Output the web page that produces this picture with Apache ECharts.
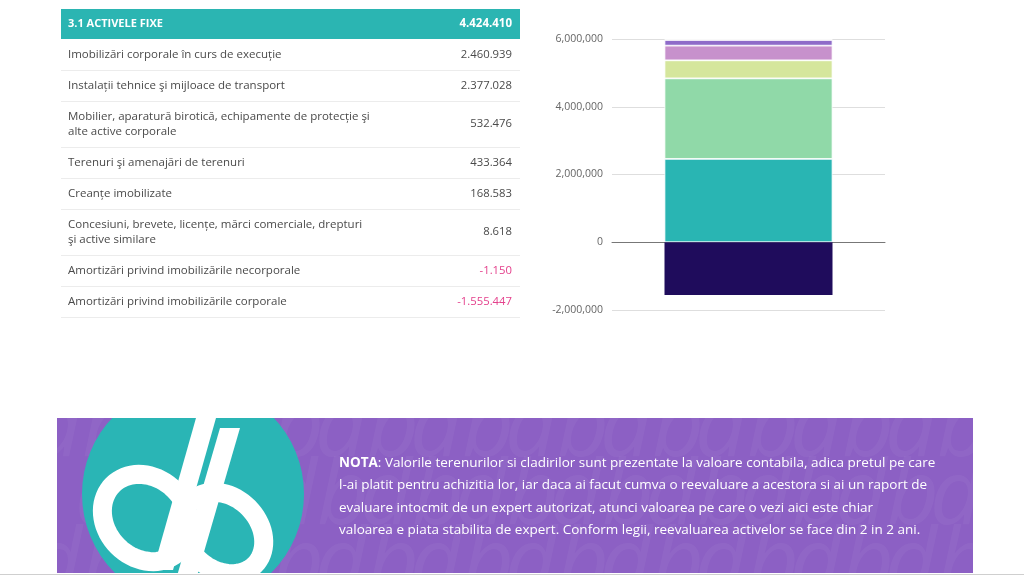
<!DOCTYPE html>
<html><head><meta charset="utf-8">
<script src="https://cdn.jsdelivr.net/npm/echarts@6/dist/echarts.min.js"></script>
<style>html,body{margin:0;padding:0;background:#fff}#c{width:1024px;height:576px}</style>
</head><body><div id="c"></div>
<script>
// ---------- data ----------
const tableTitle = '3.1 ACTIVELE FIXE';
const tableTotal = 4424410;
const categories = [
  'Imobilizări corporale în curs de execuție',
  'Instalații tehnice şi mijloace de transport',
  'Mobilier, aparatură birotică, echipamente de protecție şi\nalte active corporale',
  'Terenuri şi amenajări de terenuri',
  'Creanțe imobilizate',
  'Concesiuni, brevete, licențe, mărci comerciale, drepturi\nşi active similare',
  'Amortizări privind imobilizările necorporale',
  'Amortizări privind imobilizările corporale'
];
const values = [2460939, 2377028, 532476, 433364, 168583, 8618, -1150, -1555447];
const colors = ['#29b5b3', '#90d9a8', '#d5e69c', '#c791cc', '#8e6bc9', '#5d3d9e', '#3a1f7a', '#1f0c5c'];
const yMin = -2000000, yMax = 6000000, yStep = 2000000;
const noteLines = [
  'Valorile terenurilor si cladirilor sunt prezentate la valoare contabila, adica pretul pe care',
  'l-ai platit pentru achizitia lor, iar daca ai facut cumva o reevaluare a acestora si ai un raport de',
  'evaluare intocmit de un expert autorizat, atunci valoarea pe care o vezi aici este chiar',
  'valoarea e piata stabilita de expert. Conform legii, reevaluarea activelor se face din 2 in 2 ani.'
];
const noteLabel = 'NOTA';

// ---------- helpers ----------
const FONT = '"Open Sans", Lato, sans-serif';
function fmtRo(n) {
  return (n < 0 ? '-' : '') + Math.abs(n).toString().replace(/\B(?=(\d{3})+(?!\d))/g, '.');
}
function ellipseRing(cx, cy, a, b, theta) {
  const pts = [];
  for (let i = 0; i < 72; i++) {
    const t = i / 72 * Math.PI * 2;
    const x = a * Math.cos(t), y = b * Math.sin(t);
    pts.push([cx + x * Math.cos(theta) - y * Math.sin(theta), cy + x * Math.sin(theta) + y * Math.cos(theta)]);
  }
  return pts;
}

const graphics = [];
// ---- table ----
const tL = 61, tR = 520;
graphics.push({ type: 'rect', shape: { x: tL, y: 9, width: tR - tL, height: 30 }, style: { fill: '#2bb5b2' }, silent: true });
graphics.push({ type: 'text', x: 68, y: 24, style: { text: tableTitle, font: 'bold 11px ' + FONT, fill: '#fff', textVerticalAlign: 'middle' } });
graphics.push({ type: 'text', x: 512, y: 24, style: { text: fmtRo(tableTotal), font: 'bold 11.5px ' + FONT, fill: '#fff', textAlign: 'right', textVerticalAlign: 'middle' } });
let ry = 39;
categories.forEach((lab, i) => {
  const h = lab.indexOf('\n') >= 0 ? 46 : 31;
  const cy = ry + h / 2;
  graphics.push({ type: 'text', x: 68, y: cy, style: { text: lab, font: '11.5px ' + FONT, fill: '#4a4a4a', textVerticalAlign: 'middle', lineHeight: 15 } });
  graphics.push({ type: 'text', x: 512, y: cy, style: { text: fmtRo(values[i]), font: '11.3px ' + FONT, fill: values[i] < 0 ? '#e4418c' : '#4a4a4a', textAlign: 'right', textVerticalAlign: 'middle' } });
  ry += h;
  graphics.push({ type: 'line', shape: { x1: tL, y1: ry + 0.5, x2: tR, y2: ry + 0.5 }, style: { stroke: '#ececec', lineWidth: 1 } });
});

// ---- banner ----
const bx = 57, by = 418, bw = 916, bh = 155;
graphics.push({ type: 'rect', shape: { x: bx, y: by, width: bw, height: bh }, style: { fill: '#8c60c4' }, silent: true });
// faint watermark
for (let r = 0; r < 3; r++) {
  for (let c = 0; c < 11; c++) {
    graphics.push({ type: 'text', x: 30 + c * 95 + (r % 2) * 45, y: 385 + r * 68,
      style: { text: 'db', font: 'italic 90px ' + FONT, fill: 'rgba(255,255,255,0.045)' }, silent: true });
  }
}
// logo
graphics.push({ type: 'circle', shape: { cx: 193, cy: 494, r: 111 }, style: { fill: '#2ab5b5' }, silent: true });
graphics.push({ type: 'polygon', shape: { points: ellipseRing(146, 518, 47, 40, Math.PI / 4) }, style: { fill: 'none', stroke: '#fff', lineWidth: 19 }, silent: true });
graphics.push({ type: 'polygon', shape: { points: ellipseRing(223, 533, 45, 36, Math.PI / 4) }, style: { fill: 'none', stroke: '#fff', lineWidth: 19 }, silent: true });
graphics.push({ type: 'polygon', shape: { points: [[196, 418], [216, 418], [173, 570], [153, 570]] }, style: { fill: '#fff' }, silent: true });
graphics.push({ type: 'polygon', shape: { points: [[220, 428], [240, 428], [197, 576], [177, 576]] }, style: { fill: '#fff' }, silent: true });
// masks for overflow
graphics.push({ type: 'rect', shape: { x: 0, y: 330, width: 1024, height: by - 330 }, style: { fill: '#fff' }, silent: true });
graphics.push({ type: 'rect', shape: { x: 0, y: by + bh, width: 1024, height: 576 - by - bh }, style: { fill: '#fff' }, silent: true });
graphics.push({ type: 'line', shape: { x1: 0, y1: 574.5, x2: 1024, y2: 574.5 }, style: { stroke: '#cfcfcf', lineWidth: 1 } });
// note text
noteLines.forEach((ln, i) => {
  const txt = i === 0 ? '{b|' + noteLabel + '}: ' + ln : ln;
  graphics.push({ type: 'text', x: 339, y: 463 + i * 22.5,
    style: { text: txt, font: '13.5px ' + FONT, fill: '#fff', textVerticalAlign: 'middle',
      rich: { b: { fontWeight: 'bold', fontSize: 13.5, fontFamily: FONT, fill: '#fff' } } } });
});

// ---------- chart ----------
const chart = echarts.init(document.getElementById('c'), null, { renderer: 'canvas' });
chart.setOption({
  animation: false,
  backgroundColor: '#fff',
  grid: { left: 612, right: 139, top: 39, bottom: 266, containLabel: false },
  xAxis: {
    type: 'category', data: [''],
    axisLine: { show: true, onZero: true, lineStyle: { color: '#777', width: 1 } },
    axisTick: { show: false }, axisLabel: { show: false }
  },
  yAxis: {
    type: 'value', min: yMin, max: yMax, interval: yStep,
    axisLine: { show: false }, axisTick: { show: false },
    axisLabel: { color: '#666', fontSize: 10.5, fontFamily: FONT, margin: 9,
      formatter: v => v.toLocaleString('en-US') },
    splitLine: { lineStyle: { color: '#dedede', width: 1 } }
  },
  series: categories.map((name, i) => ({
    type: 'bar', name: name, stack: 'total', barWidth: 168,
    data: [values[i]],
    itemStyle: { color: colors[i], borderColor: values[i] > 0 ? '#fff' : colors[i], borderWidth: values[i] > 0 ? 0.8 : 0 },
    emphasis: { disabled: true }
  })),
  graphic: { elements: graphics }
});
</script>
</body></html>
